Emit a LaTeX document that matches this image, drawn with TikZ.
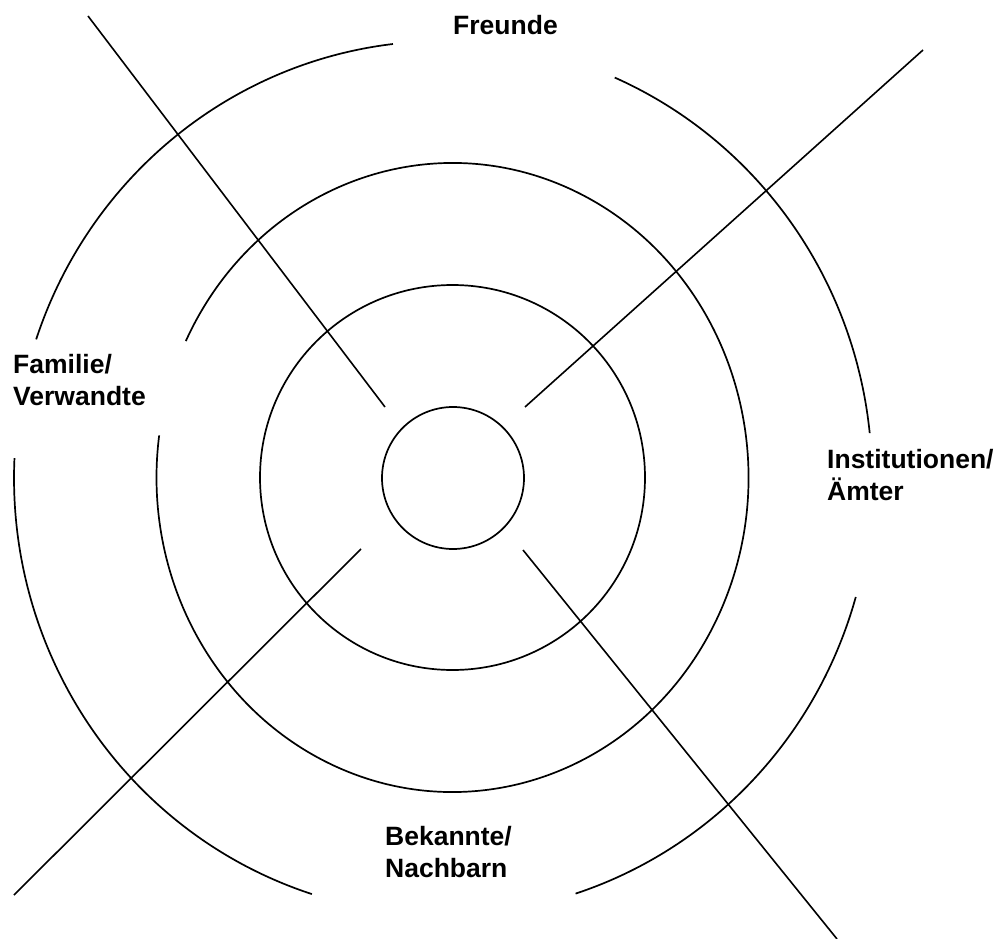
\documentclass[tikz,border=0pt]{standalone}
\usepackage{fontspec}
\setmainfont{Liberation Sans}
\begin{document}
\begin{tikzpicture}[x=1pt,y=-1pt,
  ring/.style={line width=1.7pt, draw=black},
  ray/.style={line width=1.6pt, draw=black},
  lbl/.style={font=\fontsize{26.5}{32}\selectfont\bfseries, inner sep=0pt, align=left}]
\useasboundingbox (0,0) rectangle (1002,939);
\coordinate (c) at (453,478);
\coordinate (cm) at (452.5,477.5);
\coordinate (co) at (443,478);
% rings
\draw[ring] (c) circle [radius=71];
\draw[ring] (cm) circle [radius=192.5];
\draw[ring] (cm) ++(205.7:296 and 314.5) arc[start angle=205.7, end angle=547.7, x radius=296, y radius=314.5];
\draw[ring] (co) ++(198.5:429 and 437) arc[start angle=198.5, end angle=263.3, x radius=429, y radius=437];
\draw[ring] (co) ++(293.6:429 and 437) arc[start angle=293.6, end angle=354.1, x radius=429, y radius=437];
\draw[ring] (co) ++(15.8:429 and 437) arc[start angle=15.8, end angle=72, x radius=429, y radius=437];
\draw[ring] (co) ++(107.8:429 and 437) arc[start angle=107.8, end angle=182.6, x radius=429, y radius=437];
% rays
\coordinate (nwa) at (88,16);   \coordinate (nwb) at (385,407);
\coordinate (nea) at (923,50);  \coordinate (neb) at (525,407);
\coordinate (swa) at (361,549); \coordinate (swb) at (14,895);
\coordinate (sea) at (523,550); \coordinate (seb) at (837,939);
\draw[ray] (nwa) -- (nwb);
\draw[ray] (nea) -- (neb);
\draw[ray] (swa) -- (swb);
\draw[ray] (sea) -- (seb);
% labels (base anchor = baseline of last line)
\node[lbl, anchor=base west] (freunde) at (453,35) {Freunde};
\node[lbl, anchor=base west] (familie) at (13,405) {Familie/\\Verwandte};
\node[lbl, anchor=base west] (inst) at (827,500) {Institutionen/\\Ämter};
\node[lbl, anchor=base west] (bek) at (385,877) {Bekannte/\\Nachbarn};
\end{tikzpicture}
\end{document}
